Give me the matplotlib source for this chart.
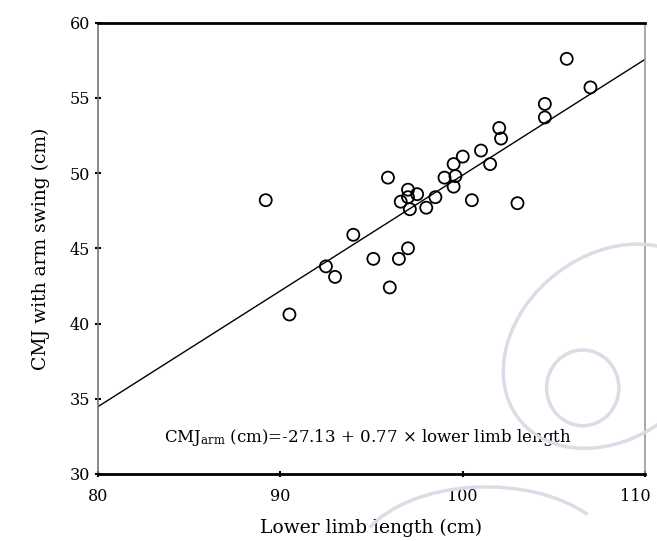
import numpy as np
import matplotlib
matplotlib.use("Agg")
import matplotlib.pyplot as plt
import matplotlib.transforms as mtransforms
from matplotlib.patches import Ellipse, Arc

# Datos
limb_length = [89.2, 90.5, 92.5, 93.0, 94.0, 95.1, 95.9, 96.0, 96.5, 97.0,
               96.6, 97.0, 97.0, 97.1, 97.5, 98.0, 98.5, 99.0, 99.5, 99.6,
               99.5, 100.0, 100.5, 101.0, 101.5, 102.0, 102.1, 103.0, 104.5, 104.5,
               105.7, 107.0]
cmj_arm = [48.2, 40.6, 43.8, 43.1, 45.9, 44.3, 49.7, 42.4, 44.3, 45.0,
           48.1, 48.9, 48.4, 47.6, 48.6, 47.7, 48.4, 49.7, 50.6, 49.8,
           49.1, 51.1, 48.2, 51.5, 50.6, 53.0, 52.3, 48.0, 54.6, 53.7,
           57.6, 55.7]
intercept = -27.13
slope = 0.77

plt.rcParams['font.family'] = ['DejaVu Serif']
plt.rcParams['mathtext.fontset'] = 'dejavuserif'

fig = plt.figure(figsize=(6.57, 5.41), dpi=100)

# marca de agua de fondo
wm = '#dadde5'
fig.patches.append(Ellipse((0.93, 0.36), 0.30, 0.40, angle=-30, fill=False,
                           ec=wm, lw=2.5, transform=fig.transFigure, zorder=0))
fig.patches.append(Ellipse((0.887, 0.283), 0.11, 0.14, fill=False,
                           ec=wm, lw=2.5, transform=fig.transFigure, zorder=0))
fig.patches.append(Arc((0.74, -0.04), 0.40, 0.28, theta1=30, theta2=160,
                       ec=wm, lw=2.5, transform=fig.transFigure, zorder=0))

ax = fig.add_axes([0.149, 0.124, 0.833, 0.834])
ax.set_facecolor('none')

ax.scatter(limb_length, cmj_arm, s=75, facecolors='none', edgecolors='black',
           linewidths=1.3, zorder=3)

xs = np.array([80, 110])
ax.plot(xs, intercept + slope * xs, color='black', lw=1, zorder=2)

ax.set_xlim(80, 110)
ax.set_ylim(30, 60)
ax.set_xticks([80, 90, 100, 110])
ax.set_yticks([30, 35, 40, 45, 50, 55, 60])
ax.tick_params(direction='inout', length=4, width=1.5, labelsize=11.5)
ax.tick_params(axis='x', pad=8)
for s in ax.spines.values():
    s.set_linewidth(1.2)
ax.spines['left'].set_color('#777777')
ax.spines['right'].set_color('#999999')
ax.spines['bottom'].set_linewidth(2)
ax.spines['top'].set_linewidth(2)

# el "110" se corta en el borde: moverlo un poco a la izquierda
lbl = ax.get_xticklabels()[-1]
lbl.set_transform(lbl.get_transform() +
                  mtransforms.ScaledTranslation(-7 / 72, 0, fig.dpi_scale_trans))

ax.set_xlabel("Lower limb length (cm)", fontsize=13.5, labelpad=10)
ax.set_ylabel("CMJ with arm swing (cm)", fontsize=13.5, labelpad=14)

ax.text(83.6, 32.4, r"CMJ$_{\mathrm{arm}}$ (cm)=-27.13 + 0.77 × lower limb length",
        fontsize=12, va='center', ha='left')

plt.savefig("out.png", dpi=100)
